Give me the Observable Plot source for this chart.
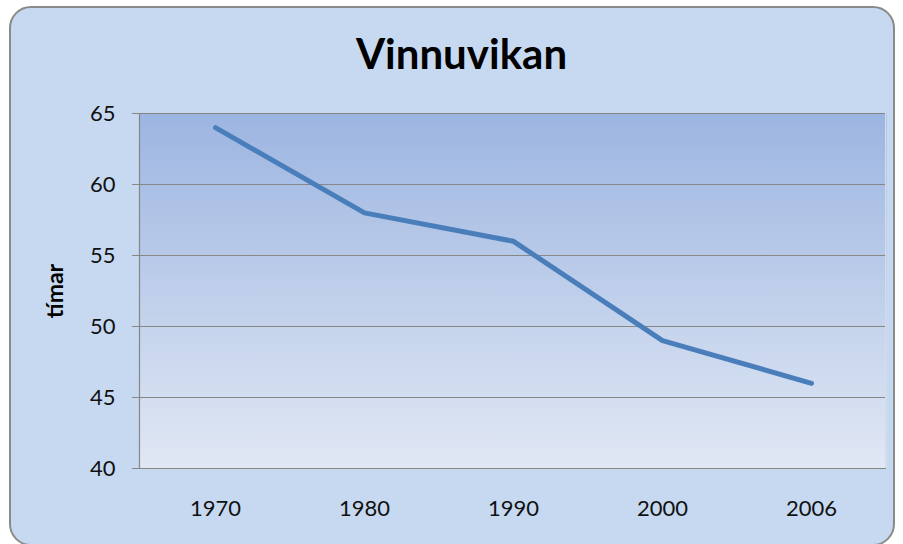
<!DOCTYPE html>
<html>
<head>
<meta charset="utf-8">
<script src="https://cdn.jsdelivr.net/npm/d3@7"></script>
<script src="https://cdn.jsdelivr.net/npm/@observablehq/plot@0.6"></script>
<style>
  html, body { margin: 0; padding: 0; background: #ffffff; }
  #wrap { position: relative; width: 903px; height: 544px; overflow: hidden; }
  #box { position: absolute; left: 9px; top: 6px; width: 886px; height: 540px;
         box-sizing: border-box; border: 2px solid #8a8a8a; border-radius: 22px;
         background: #c6d9f1; }
  #title { position: absolute; left: 0; width: 923px; top: 32px; text-align: center;
           font-family: Lato, "Open Sans", sans-serif; font-weight: 700; font-size: 42px;
           color: #000; line-height: 1; }
  #chart { position: absolute; left: 0; top: 0; }
</style>
</head>
<body>
<div id="wrap">
  <div id="box"></div>
  <div id="title">Vinnuvikan</div>
  <div id="chart"></div>
</div>
<script>
const years = ["1970", "1980", "1990", "2000", "2006"];
const hours = [64, 58, 56, 49, 46];
const yTicks = [40, 45, 50, 55, 60, 65];
const yLabel = "tímar";

const data = years.map((y, i) => ({year: y, hours: hours[i]}));

const defs = (index, scales, values, dims) => {
  const g = d3.create("svg:g");
  const lg = g.append("defs").append("linearGradient")
    .attr("id", "bgGrad").attr("x1", 0).attr("y1", 0).attr("x2", 0).attr("y2", 1);
  lg.append("stop").attr("offset", "0%").attr("stop-color", "#9cb5e1");
  lg.append("stop").attr("offset", "100%").attr("stop-color", "#e1e8f4");
  return g.node();
};

const leftLine = (index, scales, values, dims) => {
  const g = d3.create("svg:g");
  const x = dims.marginLeft + 0.5;
  g.append("line")
    .attr("x1", x).attr("x2", x)
    .attr("y1", dims.marginTop).attr("y2", dims.height - dims.marginBottom)
    .attr("stroke", "#868686").attr("stroke-width", 1.2);
  const xr = dims.width - dims.marginRight - 0.5;
  g.append("line")
    .attr("x1", xr).attr("x2", xr)
    .attr("y1", dims.marginTop).attr("y2", dims.height - dims.marginBottom)
    .attr("stroke", "#d2dcec").attr("stroke-width", 1);
  return g.node();
};

const chart = Plot.plot({
  width: 903,
  height: 544,
  marginLeft: 139,
  marginRight: 17,
  marginTop: 113,
  marginBottom: 76,
  style: {background: "transparent", fontFamily: "Lato, 'Open Sans', sans-serif", fontSize: "22px", color: "#111"},
  x: {type: "point", domain: years, padding: 0.5, label: null},
  y: {domain: [40, 65], label: null},
  marks: [
    defs,
    Plot.frame({fill: "url(#bgGrad)", stroke: "none"}),
    Plot.ruleY(yTicks, {stroke: "#878787", strokeWidth: 1.2}),
    leftLine,
    Plot.axisY({ticks: yTicks, tickSize: 7, tickPadding: 17, stroke: "#878787", label: null, fontSize: 22}),
    Plot.axisX({tickSize: 0, tickPadding: 32, label: null, fontSize: 22}),
    Plot.text([yLabel], {frameAnchor: "left", textAnchor: "middle", dx: -84, rotate: -90, fontWeight: "bold", fontSize: 23, fill: "#000"}),
    Plot.line(data, {x: "year", y: "hours", stroke: "#4a7ebb", strokeWidth: 5, strokeLinecap: "round", strokeLinejoin: "round"})
  ]
});
document.getElementById("chart").appendChild(chart);
</script>
</body>
</html>
